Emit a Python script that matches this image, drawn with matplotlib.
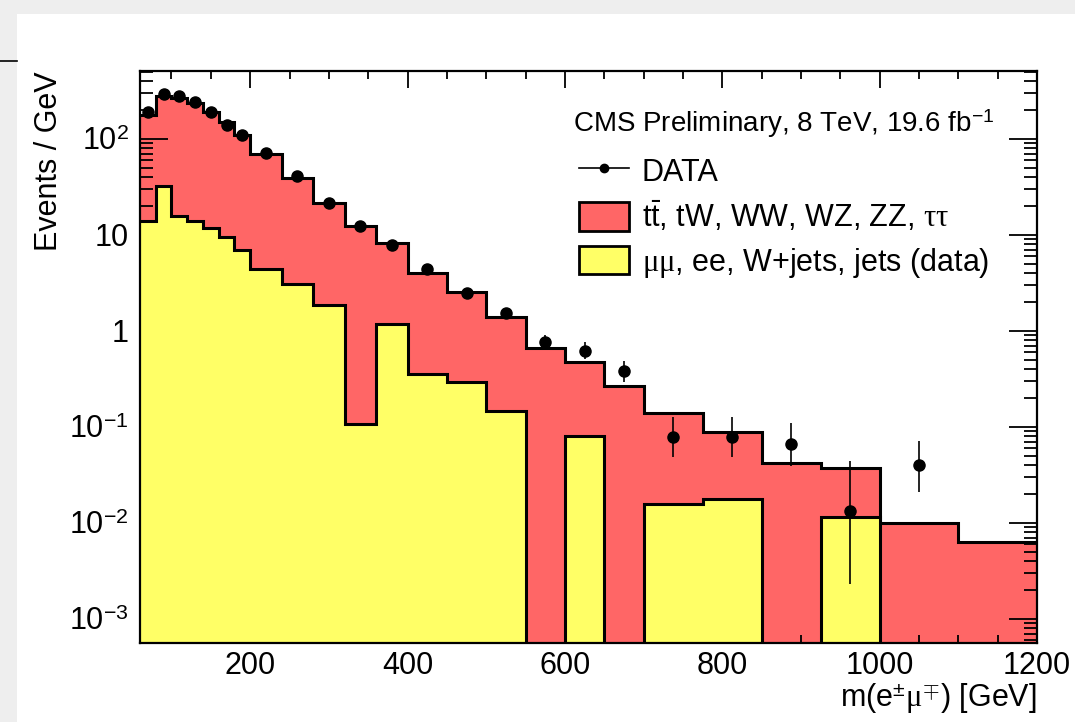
import numpy as np
import matplotlib
matplotlib.use("Agg")
import matplotlib.pyplot as plt
from matplotlib.lines import Line2D
from matplotlib.patches import Patch, Rectangle
from matplotlib.ticker import FixedLocator, MultipleLocator, LogLocator, NullFormatter, FixedFormatter

plt.rcParams["font.family"] = ["Liberation Sans", "DejaVu Sans"]
plt.rcParams["mathtext.fontset"] = "custom"
plt.rcParams["mathtext.rm"] = "Liberation Sans"
plt.rcParams["mathtext.it"] = "Liberation Serif"
plt.rcParams["mathtext.bf"] = "Liberation Sans:bold"

# bin edges in m(e mu) [GeV]
edges = [60, 80, 100, 120, 140, 160, 180, 200, 240, 280, 320, 360, 400,
         450, 500, 550, 600, 650, 700, 775, 850, 925, 1000, 1100, 1200]

# stacked prediction, events / GeV (red = full stack top)
total_bkg = [176, 278, 266, 236, 190, 150, 110, 70, 39.5, 21.6, 12.5, 8.3,
             4.05, 2.53, 1.40, 0.66, 0.47, 0.266, 0.14, 0.088, 0.042, 0.0375,
             0.0100, 0.0063]
# mumu, ee, W+jets, jets (data-driven) component
dd_bkg = [13.8, 32.0, 15.6, 14.1, 11.8, 9.6, 6.9, 4.4, 3.06, 1.87, 0.107, 1.18,
          0.356, 0.29, 0.145, 0.0, 0.081, 0.0, 0.0159, 0.0177, 0.0, 0.0116,
          0.0, 0.0]

# observed data, events / GeV (no entry in last bin)
data = [192, 294, 281, 245, 192, 140, 110, 71, 40.6, 21.4, 12.3, 7.9,
        4.4, 2.47, 1.52, 0.77, 0.62, 0.38, 0.079, 0.079, 0.067, 0.0132,
        0.040, np.nan]
data_err_lo = [3.1, 3.8, 3.7, 3.5, 3.1, 2.6, 2.3, 1.3, 1.0, 0.73, 0.55, 0.44,
               0.30, 0.22, 0.17, 0.12, 0.11, 0.09, 0.031, 0.031, 0.028, 0.0109,
               0.019, np.nan]
data_err_hi = [3.1, 3.8, 3.7, 3.5, 3.1, 2.6, 2.3, 1.3, 1.0, 0.73, 0.55, 0.44,
               0.30, 0.22, 0.17, 0.13, 0.14, 0.11, 0.048, 0.048, 0.043, 0.031,
               0.032, np.nan]

red = "#ff6666"
yellow = "#ffff66"

fig = plt.figure(figsize=(10.75, 7.22), dpi=100)
# screenshot-like grey margins
fig.patches.append(Rectangle((0, 1 - 14 / 722), 1, 14 / 722, transform=fig.transFigure,
                             facecolor="#eeeeee", edgecolor="none", zorder=-10))
fig.patches.append(Rectangle((0, 0), 17 / 1075, 1, transform=fig.transFigure,
                             facecolor="#eeeeee", edgecolor="none", zorder=-10))
fig.lines.append(Line2D([0, 17 / 1075], [1 - 61 / 722, 1 - 61 / 722], transform=fig.transFigure,
                        color="black", lw=1.2))

ax = fig.add_axes([140 / 1075, 1 - 643 / 722, 897 / 1075, 572 / 722])
ax.set_yscale("log")
ymin, ymax = 5.6e-4, 510

edges = np.array(edges)
tot = np.array(total_bkg)
dd = np.clip(np.array(dd_bkg), 1e-7, None)

ax.stairs(tot, edges, baseline=1e-7, fill=True, color=red, zorder=1)
ax.stairs(tot, edges, baseline=None, color="black", lw=2.2, zorder=2)
ax.stairs(dd, edges, baseline=1e-7, fill=True, color=yellow, zorder=3)
ax.stairs(dd, edges, baseline=None, color="black", lw=2.2, zorder=4)

centers = 0.5 * (edges[:-1] + edges[1:])
ax.errorbar(centers, data, yerr=[data_err_lo, data_err_hi], fmt="o", color="black",
            ms=8, elinewidth=1.2, capsize=0, zorder=6, clip_on=False)

ax.set_xlim(60, 1200)
ax.set_ylim(ymin, ymax)

ax.xaxis.set_major_locator(MultipleLocator(200))
ax.xaxis.set_minor_locator(MultipleLocator(50))
ax.yaxis.set_major_locator(FixedLocator([1e-3, 1e-2, 1e-1, 1, 10, 100]))
ax.yaxis.set_major_formatter(FixedFormatter(["10$^{-3}$", "10$^{-2}$", "10$^{-1}$", "1", "10", "10$^{2}$"]))
ax.yaxis.set_minor_locator(LogLocator(base=10, subs=np.arange(2, 10), numticks=20))
ax.yaxis.set_minor_formatter(NullFormatter())

ax.tick_params(axis="both", which="both", direction="in", top=True, right=True,
               labelsize=22, width=1.3)
ax.tick_params(axis="y", which="major", length=20, pad=8)
ax.tick_params(axis="y", which="minor", length=9.5)
ax.tick_params(axis="x", which="major", length=12, pad=6)
ax.tick_params(axis="x", which="minor", length=6)
for sp in ax.spines.values():
    sp.set_linewidth(1.6)
    sp.set_zorder(10)

ax.set_xlabel(r"m(e$^{\pm}\mu^{\mp}$) [GeV]", fontsize=22, ha="right", x=1.0, labelpad=0)
ax.set_ylabel("Events / GeV", fontsize=22, ha="right", y=1.0, labelpad=4)

fig.text(573 / 1075, 1 - 132 / 722, r"CMS Preliminary, 8 TeV, 19.6 fb$^{-1}$",
         fontsize=20, va="baseline", ha="left")

handles = [
    Line2D([], [], color="black", marker="o", ms=6, lw=1.2),
    Patch(facecolor=red, edgecolor="black", lw=2),
    Patch(facecolor=yellow, edgecolor="black", lw=2),
]
labels = ["DATA", r"t$\bar{\mathrm{t}}$, tW, WW, WZ, ZZ, $\tau\tau$",
          r"$\mu\mu$, ee, W+jets, jets (data)"]
fig.legend(handles, labels, loc="upper left", bbox_to_anchor=(579 / 1075, 1 - 156 / 722),
           frameon=False, fontsize=22, handlelength=1.65, handleheight=1.05,
           handletextpad=0.4, labelspacing=0.38, borderpad=0, borderaxespad=0)

fig.savefig("out.png", dpi=100, facecolor="white")
